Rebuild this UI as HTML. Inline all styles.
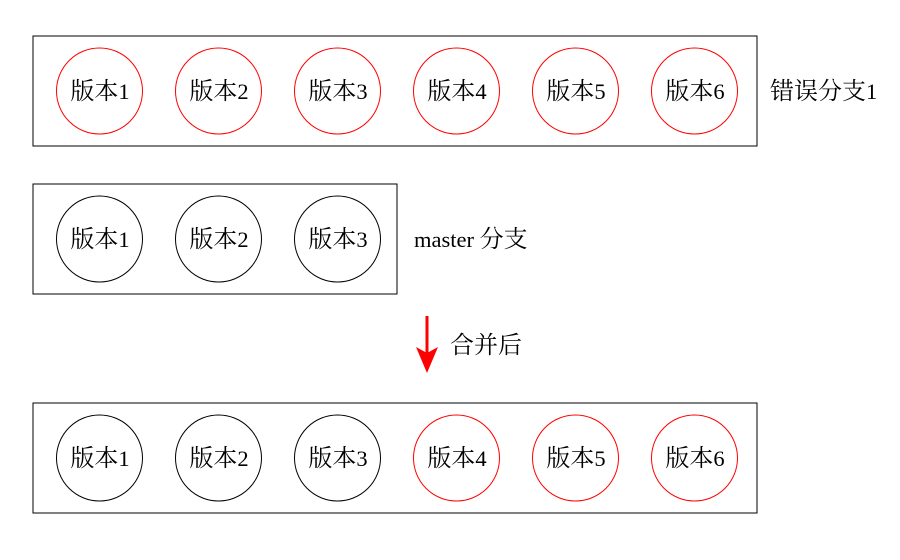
<!DOCTYPE html>
<html><head><meta charset="utf-8"><style>
html,body{margin:0;padding:0;background:#fff}
svg{display:block}
text{font-family:"Liberation Serif","Noto Serif CJK SC",serif;font-size:24px;fill:#000}
tspan{font-size:22.500px}
.m{text-anchor:middle}
</style></head><body>
<svg width="900" height="560" viewBox="0 0 900 560" xmlns="http://www.w3.org/2000/svg">
<rect width="900" height="560" fill="#fff"/>
<g fill="none" stroke="#000" stroke-width="1">
<rect x="33" y="36" width="724" height="110"/>
<rect x="33" y="184" width="364" height="110"/>
<rect x="33" y="403" width="724" height="110"/>
</g>
<g fill="#fff" stroke="#f00" stroke-width="1">
<circle cx="99.500" cy="91" r="43"/><circle cx="218.500" cy="91" r="43"/><circle cx="337.500" cy="91" r="43"/><circle cx="456.500" cy="91" r="43"/><circle cx="575.500" cy="91" r="43"/><circle cx="694.500" cy="91" r="43"/>
<circle cx="456.500" cy="458" r="43"/><circle cx="575.500" cy="458" r="43"/><circle cx="694.500" cy="458" r="43"/>
</g>
<g fill="#fff" stroke="#000" stroke-width="1">
<circle cx="99.500" cy="239" r="43"/><circle cx="218.500" cy="239" r="43"/><circle cx="337.500" cy="239" r="43"/>
<circle cx="99.500" cy="458" r="43"/><circle cx="218.500" cy="458" r="43"/><circle cx="337.500" cy="458" r="43"/>
</g>
<text class="m" x="100" y="99">版本<tspan>1</tspan></text><text class="m" x="219" y="99">版本<tspan>2</tspan></text><text class="m" x="338" y="99">版本<tspan>3</tspan></text><text class="m" x="457" y="99">版本<tspan>4</tspan></text><text class="m" x="576" y="99">版本<tspan>5</tspan></text><text class="m" x="695" y="99">版本<tspan>6</tspan></text>
<text class="m" x="100" y="247">版本<tspan>1</tspan></text><text class="m" x="219" y="247">版本<tspan>2</tspan></text><text class="m" x="338" y="247">版本<tspan>3</tspan></text>
<text class="m" x="100" y="466">版本<tspan>1</tspan></text><text class="m" x="219" y="466">版本<tspan>2</tspan></text><text class="m" x="338" y="466">版本<tspan>3</tspan></text><text class="m" x="457" y="466">版本<tspan>4</tspan></text><text class="m" x="576" y="466">版本<tspan>5</tspan></text><text class="m" x="695" y="466">版本<tspan>6</tspan></text>
<text x="770" y="99">错误分支<tspan>1</tspan></text>
<text x="414" y="247"><tspan>master </tspan>分支</text>
<text x="450" y="353">合并后</text>
<line x1="427" y1="316" x2="427" y2="355" stroke="#f00" stroke-width="3"/>
<polygon points="416,347 427,373 438,347 427,353" fill="#f00"/>
</svg>
</body></html>
